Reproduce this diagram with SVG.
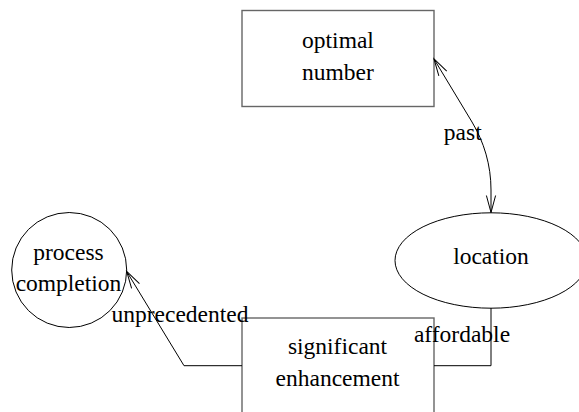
<svg xmlns="http://www.w3.org/2000/svg" width="579" height="412" viewBox="0 0 579 412">
<style>
  text { font-family: "Liberation Serif", "Times New Roman", serif; font-size: 23.5px; fill: #000; text-anchor: middle; }
  .box { fill: #fff; stroke: #666; stroke-width: 1.4; }
  .round { fill: #fff; stroke: #000; stroke-width: 1; }
  .edge { fill: none; stroke: #000; stroke-width: 1; }
</style>
<defs>
  <marker id="arr" markerUnits="userSpaceOnUse" markerWidth="20" markerHeight="12" viewBox="-18 -6 20 12" refX="0" refY="0" orient="auto-start-reverse">
    <path d="M-17,-4.6 L0,0 L-17,4.6" fill="none" stroke="#000" stroke-width="1"/>
  </marker>
</defs>
<rect width="579" height="412" fill="#fff"/>
<g id="nodes">
  <g id="optimal-number">
    <rect class="box" x="242" y="10.5" width="192" height="96"/>
    <text x="338" y="47.7">optimal</text>
    <text x="338" y="80">number</text>
  </g>
  <g id="location">
    <ellipse class="round" cx="491" cy="260.5" rx="96" ry="47.7"/>
    <text x="491" y="264">location</text>
  </g>
  <g id="process-completion">
    <circle class="round" cx="69.2" cy="270" r="57.5"/>
    <text x="68.5" y="260">process</text>
    <text x="68.5" y="290.5">completion</text>
  </g>
  <g id="significant-enhancement">
    <rect class="box" x="242" y="318" width="192" height="97"/>
    <text x="337.5" y="354">significant</text>
    <text x="337.5" y="386">enhancement</text>
  </g>
</g>
<g id="connectors">
  <path class="edge" d="M434,59 L472,122 C484,142 491,165 491,190 L491,212.5" marker-start="url(#arr)" marker-end="url(#arr)"/>
  <text x="462.8" y="140">past</text>
  <path class="edge" d="M491,308 L491,365.7 L434,365.7"/>
  <text x="462" y="342">affordable</text>
  <path class="edge" d="M242,365.7 L184,365.7 L126.7,271.5" marker-end="url(#arr)"/>
  <text x="180" y="321.7">unprecedented</text>
</g>
</svg>
